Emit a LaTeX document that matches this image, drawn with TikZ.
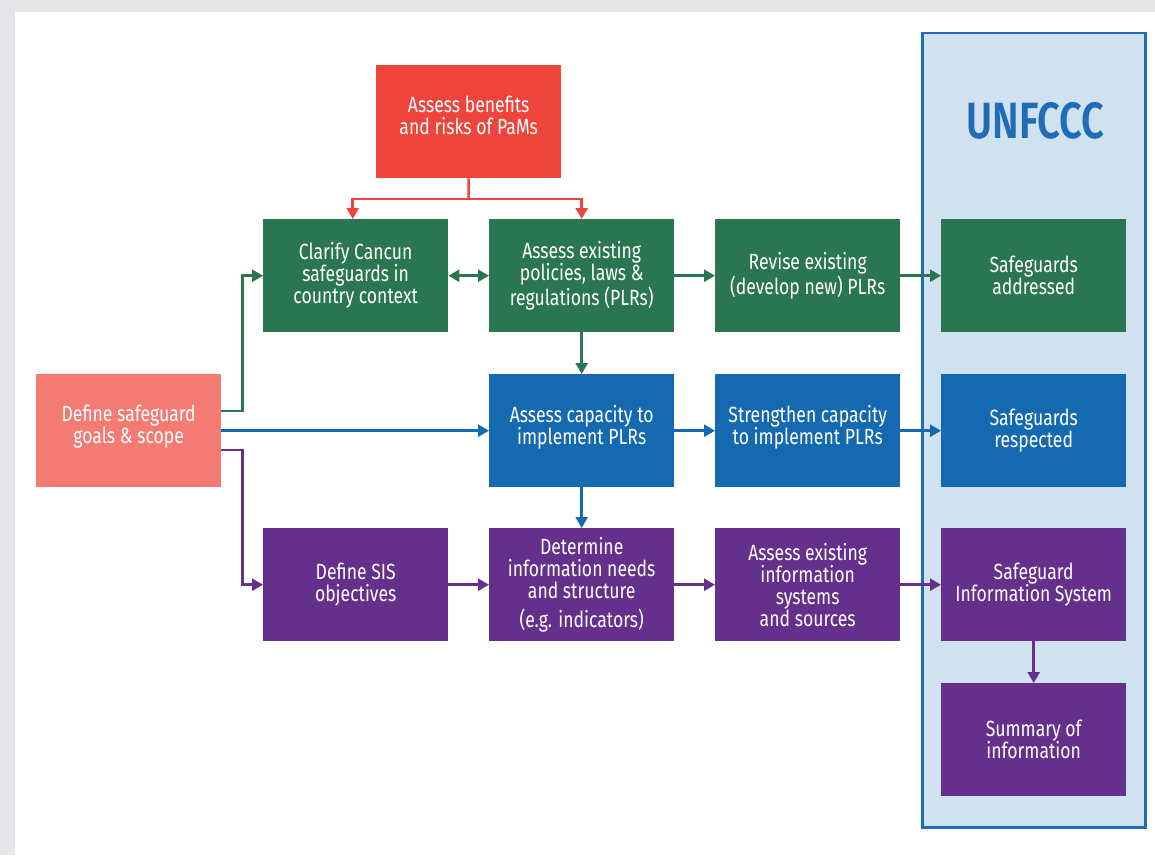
\documentclass[tikz,border=0pt]{standalone}
\usepackage{fontspec}
\setmainfont{Fira Sans}[FakeStretch=0.80]
\newfontfamily\headfont{Fira Sans}[FakeStretch=0.78,UprightFont=* SemiBold]
\usetikzlibrary{arrows.meta}
\definecolor{bggray}{HTML}{E5E6E8}
\definecolor{cgreen}{HTML}{297650}
\definecolor{cblue}{HTML}{1569B1}
\definecolor{cpurple}{HTML}{65308C}
\definecolor{cred}{HTML}{EF443B}
\definecolor{csalmon}{HTML}{F37B73}
\definecolor{cpanel}{HTML}{D0E2F0}
\definecolor{cpanelline}{HTML}{1E6DB6}
\newcommand{\liftup}{\\[-10pt]\mbox{}}
\tikzset{
  box/.style={minimum width=185pt, minimum height=113pt, inner sep=0pt, align=center,
    text=white, font=\fontsize{22}{22}\selectfont, anchor=north west},
  arr/.style={line width=2.5pt, -{Triangle[length=11pt,width=12pt]}},
  darr/.style={line width=2.5pt, {Triangle[length=11pt,width=12pt]}-{Triangle[length=11pt,width=12pt]}},
  ln/.style={line width=2.5pt}
}
\begin{document}
\begin{tikzpicture}[x=1pt,y=-1pt]
\useasboundingbox (0,0) rectangle (1155,855);
\fill[bggray] (0,0) rectangle (1155,855);
\fill[white] (15,12) rectangle (1155,855);
\filldraw[fill=cpanel, draw=cpanelline, line width=2.5pt] (922.5,33) rectangle (1145.5,827.5);
\node[text=cpanelline, font=\headfont\fontsize{51}{51}\selectfont] (unfccc) at (1035.5,121) {UNFCCC};

\node[box, fill=cred] (risks) at (376,65) {Assess benefits\\and risks of PaMs\liftup};

\node[box, fill=cgreen] (clarify) at (263,219) {Clarify Cancun\\safeguards in\\country context};
\node[box, fill=cgreen] (existing) at (489,219) {Assess existing\\policies, laws \&\\regulations (PLRs)};
\node[box, fill=cgreen] (revise) at (715,219) {Revise existing\\(develop new) PLRs};
\node[box, fill=cgreen] (addressed) at (941,219) {Safeguards\\addressed};

\node[box, fill=csalmon] (define) at (36,374) {Define safeguard\\goals \& scope\liftup};
\node[box, fill=cblue] (capacity) at (489,374) {Assess capacity to\\implement PLRs\liftup};
\node[box, fill=cblue] (strengthen) at (715,374) {Strengthen capacity\\to implement PLRs\liftup};
\node[box, fill=cblue] (respected) at (941,374) {Safeguards\\respected};

\node[box, fill=cpurple] (sisobj) at (263,528) {Define SIS\\objectives};
\node[box, fill=cpurple] (needs) at (489,528) {Determine\\information needs\\and structure\\[7pt](e.g. indicators)};
\node[box, fill=cpurple] (infosys) at (715,528) {Assess existing\\information\\systems\\and sources};
\node[box, fill=cpurple] (sis) at (941,528) {Safeguard\\Information System};
\node[box, fill=cpurple] (summary) at (941,683) {Summary of\\information};

% red connectors
\coordinate (rj) at (468.5,199);
\draw[ln, cred] (risks.south) -- (rj);
\draw[arr, cred] (rj) -| ([xshift=-3pt]clarify.north);
\draw[arr, cred] (rj) -| (existing.north);

% from define
\draw[arr, cgreen] ([yshift=19.5pt]define.east) -- ++(21,0) |- (clarify.west);
\draw[arr, cblue] (define.east) -- (capacity.west);
\draw[arr, cpurple] ([yshift=-19.5pt]define.east) -- ++(21,0) |- (sisobj.west);

% green row
\draw[darr, cgreen] (clarify.east) -- (existing.west);
\draw[arr, cgreen] (existing.east) -- (revise.west);
\draw[arr, cgreen] (revise.east) -- (addressed.west);
\draw[arr, cgreen] (existing.south) -- (capacity.north);

% blue row
\draw[arr, cblue] (capacity.east) -- (strengthen.west);
\draw[arr, cblue] (strengthen.east) -- (respected.west);
\draw[arr, cblue] (capacity.south) -- (needs.north);

% purple row
\draw[arr, cpurple] (sisobj.east) -- (needs.west);
\draw[arr, cpurple] (needs.east) -- (infosys.west);
\draw[arr, cpurple] (infosys.east) -- (sis.west);
\draw[arr, cpurple] (sis.south) -- (summary.north);
\end{tikzpicture}
\end{document}
